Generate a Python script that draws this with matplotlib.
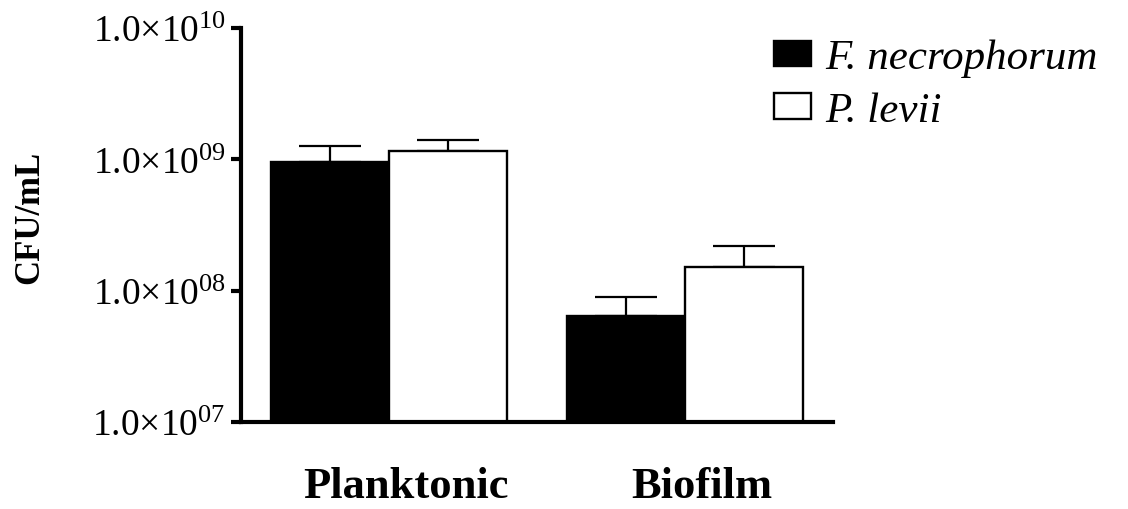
import matplotlib
matplotlib.use('Agg')
import matplotlib.pyplot as plt
import matplotlib.transforms as mtransforms
from matplotlib.patches import Patch
import numpy as np

plt.rcParams['font.family'] = 'Liberation Serif'
plt.rcParams['mathtext.fontset'] = 'custom'
plt.rcParams['mathtext.rm'] = 'Liberation Serif'
plt.rcParams['mathtext.it'] = 'Liberation Serif:italic'
plt.rcParams['mathtext.bf'] = 'Liberation Serif:bold'

# data (mean + upper SEM)
groups = ['Planktonic', 'Biofilm']
fn_mean = [9.5e8, 6.45e7]
fn_sem = [3.2e8, 2.55e7]
pl_mean = [1.16e9, 1.51e8]
pl_sem = [2.5e8, 6.7e7]
series_names = ['F. necrophorum', 'P. levii']
ytick_vals = [1e7, 1e8, 1e9, 1e10]
ytick_labels = ['1.0×10$^{\\mathregular{07}}$', '1.0×10$^{\\mathregular{08}}$',
                '1.0×10$^{\\mathregular{09}}$', '1.0×10$^{\\mathregular{10}}$']

fig = plt.figure(figsize=(11.28, 5.10), dpi=100)
ax = fig.add_axes([241/1128, 1-423/510, 592/1128, 394/510])

x = np.arange(len(groups))
w = 0.4
err_kw = dict(elinewidth=1.6, capthick=1.6, ecolor='black', zorder=1)
ax.bar(x - w/2, fn_mean, w, color='black', edgecolor='black', linewidth=1.7,
       yerr=[np.zeros(len(groups)), fn_sem], capsize=22, error_kw=err_kw, zorder=2)
ax.bar(x + w/2, pl_mean, w, color='white', edgecolor='black', linewidth=1.7,
       yerr=[np.zeros(len(groups)), pl_sem], capsize=22, error_kw=err_kw, zorder=2)

ax.set_yscale('log')
ax.set_ylim(1e7, 1e10)
ax.set_xlim(-0.5, 1.5)
ax.set_yticks(ytick_vals)
ax.set_yticklabels(ytick_labels, fontsize=27)
ax.yaxis.set_minor_locator(matplotlib.ticker.NullLocator())
ax.tick_params(axis='y', length=7, width=3, pad=4)

ax.set_xticks(x)
ax.set_xticklabels(groups, fontsize=32, fontweight='bold')
ax.tick_params(axis='x', length=0, pad=32)
offset = mtransforms.ScaledTranslation(17/100, 0, fig.dpi_scale_trans)
for lab in ax.get_xticklabels():
    lab.set_transform(lab.get_transform() + offset)

for s in ['top', 'right']:
    ax.spines[s].set_visible(False)
for s in ['left', 'bottom']:
    ax.spines[s].set_linewidth(3)

fig.text(30/1128, 1-217/510, 'CFU/mL', rotation=90, ha='center', va='center',
         fontsize=25, fontweight='bold')

handles = [Patch(facecolor='black', edgecolor='black', linewidth=1.7),
           Patch(facecolor='white', edgecolor='black', linewidth=1.7)]
fig.legend(handles, series_names, loc='upper left', bbox_to_anchor=(774/1128, 1-40/510),
           frameon=False, prop={'style': 'italic', 'size': 31}, borderpad=0,
           borderaxespad=0, handlelength=0.86, handleheight=0.53, handletextpad=0.33,
           labelspacing=0.33)

fig.savefig('out.png', dpi=100)
